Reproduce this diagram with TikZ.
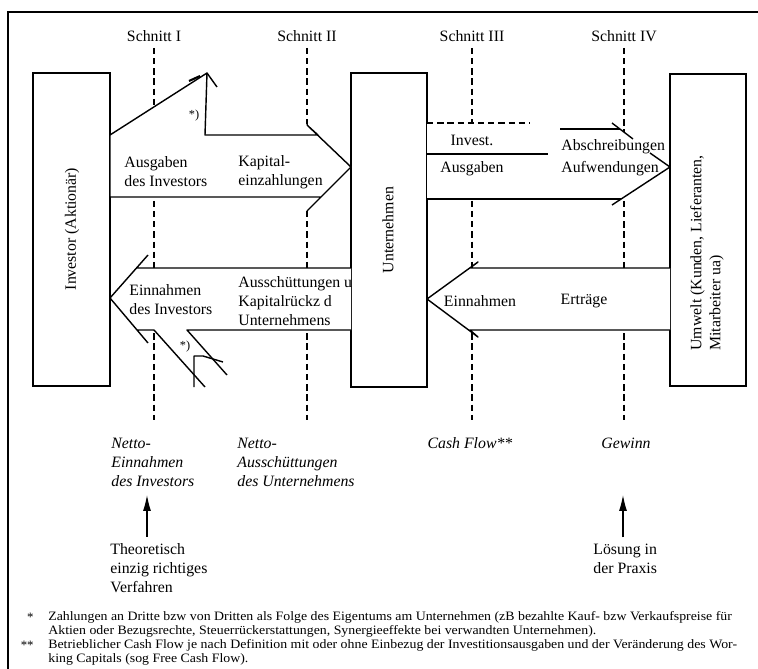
\documentclass[tikz,border=0pt]{standalone}
\usepackage{fontspec}
\setmainfont{Liberation Serif}
\usepackage{graphicx}
\usepackage{tikz}
\usetikzlibrary{arrows.meta}

\newcommand{\fnzeile}[1]{\scalebox{1.08}[1]{#1}}

\tikzset{
  kasten/.style={ draw, line width=0.7pt, inner sep=0pt }
}
\tikzset{
  schnitt/.style={ dash pattern=on 3.6pt off 2.2pt, line width=0.8pt }
}
\tikzset{
  strom/.style={ draw, fill=white, line width=0.8pt, line join=round }
}
\tikzset{
  kante/.style={ line width=0.8pt, line join=round }
}
\tikzset{
  txt/.style={ font=\fontsize{9}{10.8}\selectfont, inner sep=0pt, align=left }
}
\tikzset{
  kursiv/.style={ font=\fontsize{9}{10.8}\selectfont\itshape, inner sep=0pt, align=left }
}
\tikzset{
  stern/.style={ font=\fontsize{7}{8}\selectfont, inner sep=0pt }
}
\tikzset{
  fussnote/.style={ font=\fontsize{7.3}{8}\selectfont, inner sep=0pt, align=left }
}
\tikzset{
  hoch/.style={ -{Latex[length=9pt,width=4.5pt]}, line width=0.6pt }
}

\begin{document}
\begin{tikzpicture}[x=0.02cm, y=-0.02cm]
  \useasboundingbox (0,0) rectangle (758,669);
  % Rahmen
  \draw[line width=0.8pt] (8,669) -- (8,12) -- (758,12);

  % Schnitte I-IV
  \foreach \n/\x/\t in {s1/154/I, s2/307/II, s3/472/III, s4/624/IV} {
    \node[txt] (\n) at (\x,36) {Schnitt \t};
    \draw[schnitt] (\n.south) ++(0,6) -- (\x,420);
  }

  % Kaesten
  \node[kasten, minimum width=1.54cm, minimum height=6.26cm] (inv) at (71.5,229.5) {};
  \node[kasten, minimum width=1.52cm, minimum height=6.28cm] (unt) at (389,230) {};
  \node[kasten, minimum width=1.52cm, minimum height=6.24cm] (umw) at (708,230) {};
  \node[txt, rotate=90] (invT) at (72,229) {Investor (Aktionär)};
  \node[txt, rotate=90] (untT) at (388,230) {Unternehmen};
  \node[txt, rotate=90] (umwT) at (707,253) {Umwelt (Kunden, Lieferanten,\\Mitarbeiter ua)};

  % Investor -> Unternehmen
  \path[fill=white] (302,120) -- (351,167) -- (302,214) -- cycle;
  \draw[strom] (110,135) -- (207,73) -- (205,135) -- (318,135) -- (307,125) -- (351,167)
    -- (307,211) -- (321,197) -- (110,197) -- cycle;
  \draw[kante] (207,73) -- (217,87);
  \draw[line width=1.2pt] (189,81) -- (200,76);
  \node[stern] (st1) at (194,116) {*)};
  \node[txt, anchor=west] (ausg) at (124,172) {Ausgaben\\des Investors};
  \node[txt, anchor=west] (kapE) at (238,172) {Kapital-\\einzahlungen};

  % Unternehmen -> Investor
  \path[fill=white] (351,268) -- (137,268) -- (110,298) -- (137,330) -- (154,330) -- (205,387)
    -- (227,375) -- (187,330) -- (351,330) -- cycle;
  \draw[kante] (351,268) -- (137,268) (148,255) -- (110,298) -- (148,343)
    (137,330) -- (154,330) -- (205,387) (227,375) -- (187,330) -- (351,330);
  \draw[kante] (194,387) -- (194,356) -- (203,356) -- (223,362);
  \node[stern] (st2) at (185,347) {*)};
  \node[txt, anchor=west] (einI) at (129,300) {Einnahmen\\des Investors};
  \node[txt, anchor=west] (aussch) at (238,301) {Ausschüttungen u\\Kapitalrückz d\\Unternehmens};

  % Unternehmen -> Umwelt
  \path[fill=white] (427,123) -- (612,123) -- (670,167) -- (612,205) -- (621,199) -- (427,199) -- cycle;
  \draw[schnitt] (427,123) -- (530,123);
  \draw[kante] (427,154) -- (548,154);
  \draw[kante] (560,129) -- (620,129);
  \draw[kante] (612,123) -- (633,139) (650,153) -- (670,167) -- (612,205);
  \draw[kante] (427,199) -- (621,199);
  \node[txt] (inv1) at (472,140) {Invest.};
  \node[txt] (ausg2) at (472,169) {Ausgaben};
  \node[txt, anchor=west] (abs) at (561,147) {Abschreibungen};
  \node[txt, anchor=west] (aufw) at (561,169) {Aufwendungen};

  % Umwelt -> Unternehmen
  \draw[strom] (670,268) -- (470,268) -- (478,262) -- (427,299) -- (478,337) -- (470,330) -- (670,330);
  \node[txt] (einU) at (480,301) {Einnahmen};
  \node[txt] (ertr) at (584,301) {Erträge};

  % Ergebnisgroessen
  \node[kursiv, anchor=west] (nettoI) at (111,462) {Netto-\\Einnahmen\\des Investors};
  \node[kursiv, anchor=west] (nettoII) at (237,462) {Netto-\\Ausschüttungen\\des Unternehmens};
  \node[kursiv] (cf) at (470,443) {Cash Flow**};
  \node[kursiv] (gew) at (626,443) {Gewinn};

  \node[txt, anchor=west] (theo) at (110,568) {Theoretisch\\einzig richtiges\\Verfahren};
  \node[txt, anchor=west] (loes) at (593,559) {Lösung in\\der Praxis};
  \coordinate (pI) at (147,0);
  \coordinate (pIV) at (623,0);
  \draw[hoch, shorten <=3.7pt, shorten >=4.8pt] (theo.north -| pI) -- (nettoI.south -| pI);
  \draw[hoch, shorten <=3.7pt, shorten >=4.8pt] (loes.north -| pIV) -- (nettoI.south -| pIV);

  % Fussnoten
  \node[fussnote, anchor=east] (m1) at (34,617) {*};
  \node[fussnote, anchor=west] (fn1) at (48,624) {\fnzeile{Zahlungen an Dritte bzw von Dritten als Folge des Eigentums am Unternehmen (zB bezahlte Kauf- bzw Verkaufspreise für}\\\fnzeile{Aktien oder Bezugsrechte, Steuerrückerstattungen, Synergieeffekte bei verwandten Unternehmen).}};
  \node[fussnote, anchor=east] (m2) at (34,645) {**};
  \node[fussnote, anchor=west] (fn2) at (48,652) {\fnzeile{Betrieblicher Cash Flow je nach Definition mit oder ohne Einbezug der Investitionsausgaben und der Veränderung des Wor-}\\\fnzeile{king Capitals (sog Free Cash Flow).}};
\end{tikzpicture}
\end{document}
